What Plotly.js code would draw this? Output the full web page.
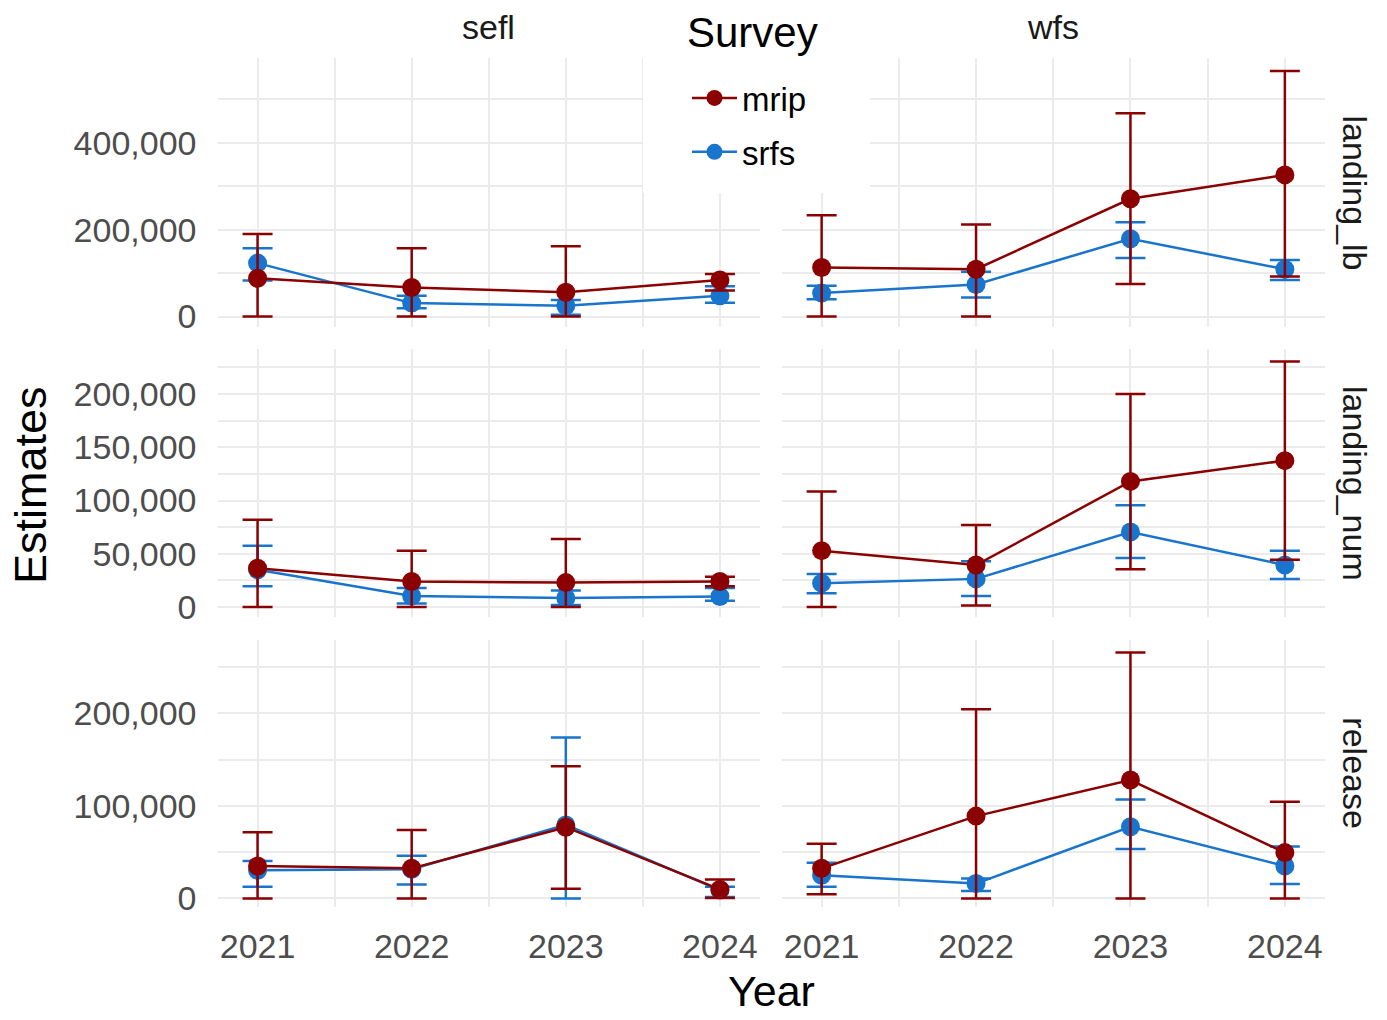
<!DOCTYPE html>
<html><head><meta charset="utf-8">
<script src="https://cdn.plot.ly/plotly-3.0.1.min.js"></script>
<style>html,body{margin:0;padding:0;background:#fff}#chart{width:1387px;height:1020px}</style>
</head><body><div id="chart"></div>
<script>
// ---- categories ----
const years = [2021, 2022, 2023, 2024];
const regions = ['sefl', 'wfs'];
const metrics = ['landing_lb', 'landing_num', 'release'];
const surveys = ['mrip', 'srfs'];

// ---- landing_lb ----
const sefl_lb_mrip_est = [88000, 67000, 56000, 84000];
const sefl_lb_mrip_lo  = [0, 0, 0, 60000];
const sefl_lb_mrip_hi  = [190000, 157000, 162000, 98000];
const sefl_lb_srfs_est = [123000, 31000, 25000, 48000];
const sefl_lb_srfs_lo  = [83000, 19000, 4000, 32000];
const sefl_lb_srfs_hi  = [157000, 48000, 38000, 70000];

const wfs_lb_mrip_est = [113000, 109000, 271000, 326000];
const wfs_lb_mrip_lo  = [0, 0, 75000, 92000];
const wfs_lb_mrip_hi  = [233000, 212000, 468000, 565000];
const wfs_lb_srfs_est = [54000, 74000, 179000, 109000];
const wfs_lb_srfs_lo  = [40000, 44000, 135000, 84000];
const wfs_lb_srfs_hi  = [71000, 103000, 217000, 130000];

// ---- landing_num ----
const sefl_num_mrip_est = [36500, 24000, 23000, 24000];
const sefl_num_mrip_lo  = [0, 0, 0, 19500];
const sefl_num_mrip_hi  = [82000, 53000, 64000, 28500];
const sefl_num_srfs_est = [35000, 10500, 8500, 10000];
const sefl_num_srfs_lo  = [19500, 3500, 2000, 6000];
const sefl_num_srfs_hi  = [57500, 18000, 15500, 18000];

const wfs_num_mrip_est = [53000, 39500, 118000, 137500];
const wfs_num_mrip_lo  = [0, 1500, 35500, 44500];
const wfs_num_mrip_hi  = [108500, 77000, 200000, 230500];
const wfs_num_srfs_est = [22500, 26500, 70500, 39500];
const wfs_num_srfs_lo  = [13000, 10500, 46000, 26500];
const wfs_num_srfs_hi  = [31000, 43000, 95500, 53000];

// ---- release ----
const sefl_rel_mrip_est = [35000, 32500, 77000, 9700];
const sefl_rel_mrip_lo  = [0, 0, 10500, 500];
const sefl_rel_mrip_hi  = [71500, 74000, 143000, 20500];
const sefl_rel_srfs_est = [30500, 31500, 79500, 9000];
const sefl_rel_srfs_lo  = [12500, 15000, 0, 1500];
const sefl_rel_srfs_hi  = [40500, 46000, 174000, 12500];

const wfs_rel_mrip_est = [32500, 89000, 128000, 49500];
const wfs_rel_mrip_lo  = [4500, 0, 0, 0];
const wfs_rel_mrip_hi  = [59000, 204500, 266000, 104500];
const wfs_rel_srfs_est = [25000, 16000, 77500, 35000];
const wfs_rel_srfs_lo  = [12500, 8000, 53500, 15500];
const wfs_rel_srfs_hi  = [38500, 21500, 107000, 56000];

const panelData = {
  landing_lb: {
    sefl: {mrip: [sefl_lb_mrip_est, sefl_lb_mrip_lo, sefl_lb_mrip_hi], srfs: [sefl_lb_srfs_est, sefl_lb_srfs_lo, sefl_lb_srfs_hi]},
    wfs:  {mrip: [wfs_lb_mrip_est, wfs_lb_mrip_lo, wfs_lb_mrip_hi],   srfs: [wfs_lb_srfs_est, wfs_lb_srfs_lo, wfs_lb_srfs_hi]}
  },
  landing_num: {
    sefl: {mrip: [sefl_num_mrip_est, sefl_num_mrip_lo, sefl_num_mrip_hi], srfs: [sefl_num_srfs_est, sefl_num_srfs_lo, sefl_num_srfs_hi]},
    wfs:  {mrip: [wfs_num_mrip_est, wfs_num_mrip_lo, wfs_num_mrip_hi],   srfs: [wfs_num_srfs_est, wfs_num_srfs_lo, wfs_num_srfs_hi]}
  },
  release: {
    sefl: {mrip: [sefl_rel_mrip_est, sefl_rel_mrip_lo, sefl_rel_mrip_hi], srfs: [sefl_rel_srfs_est, sefl_rel_srfs_lo, sefl_rel_srfs_hi]},
    wfs:  {mrip: [wfs_rel_mrip_est, wfs_rel_mrip_lo, wfs_rel_mrip_hi],   srfs: [wfs_rel_srfs_est, wfs_rel_srfs_lo, wfs_rel_srfs_hi]}
  }
};

// ---- styling ----
const W = 1387, H = 1020;
const FONT = 'Liberation Sans, Arial, sans-serif';
const colors = {mrip: '#8B0000', srfs: '#1874CD'};
const colPx = [[217.5, 760], [781.5, 1325]];
const rowPx = [[58, 327], [349.3, 616.7], [640, 906.7]];
const yRanges = [[-24000, 595000], [-9000, 242000], [-9000, 279500]];
const yDtick = [200000, 50000, 100000];
const yMinor = [100000, 25000, 50000];
const GRID = '#ebebeb';
const px2x = p => p / W;
const py2y = p => 1 - p / H;

const traces = [];
const layout = {
  width: W, height: H,
  margin: {l: 0, r: 0, t: 0, b: 0},
  paper_bgcolor: '#fff', plot_bgcolor: 'rgba(0,0,0,0)',
  font: {family: FONT, color: '#1a1a1a'},
  showlegend: true,
  legend: {
    x: px2x(687), y: py2y(70), xanchor: 'left', yanchor: 'top',
    bgcolor: 'rgba(0,0,0,0)',
    font: {size: 33, color: '#000', family: FONT},
    itemwidth: 45, tracegroupgap: 8, traceorder: 'grouped'
  },
  shapes: [{
    type: 'rect', xref: 'paper', yref: 'paper', layer: 'above',
    x0: px2x(643), x1: px2x(870), y0: py2y(193), y1: 1,
    fillcolor: '#fff', line: {width: 0}
  }],
  annotations: []
};

metrics.forEach((m, r) => {
  regions.forEach((reg, c) => {
    const idx = r * 2 + c + 1;
    const xa = idx === 1 ? 'xaxis' : 'xaxis' + idx;
    const ya = idx === 1 ? 'yaxis' : 'yaxis' + idx;
    const xr = idx === 1 ? 'x' : 'x' + idx;
    const yr = idx === 1 ? 'y' : 'y' + idx;
    layout[xa] = {
      domain: [px2x(colPx[c][0]), px2x(colPx[c][1])],
      anchor: yr, range: [2020.74, 2024.26],
      tick0: 2021, dtick: 1, tickformat: 'd',
      showticklabels: r === 2, ticks: '', ticklabelstandoff: 16,
      tickfont: {size: 34, color: '#4d4d4d', family: FONT},
      showgrid: true, gridcolor: GRID, gridwidth: 2,
      minor: {dtick: 0.5, tick0: 2021, showgrid: true, gridcolor: GRID, gridwidth: 1.5},
      zeroline: false, showline: false, fixedrange: true
    };
    layout[ya] = {
      domain: [py2y(rowPx[r][1]), py2y(rowPx[r][0])],
      anchor: xr, range: yRanges[r],
      tick0: 0, dtick: yDtick[r], tickformat: ',d',
      showticklabels: c === 0, ticks: '', ticklabelstandoff: 20,
      tickfont: {size: 34, color: '#4d4d4d', family: FONT},
      showgrid: true, gridcolor: GRID, gridwidth: 2,
      minor: {dtick: yMinor[r], tick0: 0, showgrid: true, gridcolor: GRID, gridwidth: 1.5},
      zeroline: false, showline: false, fixedrange: true
    };
    ['srfs', 'mrip'].forEach(s => {
      const [est, lo, hi] = panelData[m][reg][s];
      traces.push({
        type: 'scatter', mode: 'lines+markers',
        x: years, y: est, xaxis: xr, yaxis: yr,
        name: s, legendgroup: s, showlegend: idx === 1,
        legendrank: s === 'mrip' ? 1 : 2,
        line: {color: colors[s], width: 2.5},
        marker: {color: colors[s], size: 19},
        error_y: {
          type: 'data', symmetric: false,
          array: hi.map((h, i) => h - est[i]),
          arrayminus: lo.map((l, i) => est[i] - l),
          color: colors[s], thickness: 2.5, width: 15
        },
        hoverinfo: 'x+y+name'
      });
    });
  });
});

// legend title
layout.annotations.push({
  text: 'Survey', xref: 'paper', yref: 'paper',
  x: px2x(752), y: py2y(32), xanchor: 'center', yanchor: 'middle',
  showarrow: false, font: {size: 42, color: '#000', family: FONT}
});
// strip labels
regions.forEach((reg, c) => {
  layout.annotations.push({
    text: reg, xref: 'paper', yref: 'paper',
    x: px2x((colPx[c][0] + colPx[c][1]) / 2), y: py2y(27),
    xanchor: 'center', yanchor: 'middle', showarrow: false,
    font: {size: 34, color: '#1a1a1a', family: FONT}
  });
});
metrics.forEach((m, r) => {
  layout.annotations.push({
    text: m, xref: 'paper', yref: 'paper', textangle: 90,
    x: px2x(1355), y: py2y((rowPx[r][0] + rowPx[r][1]) / 2),
    xanchor: 'center', yanchor: 'middle', showarrow: false,
    font: {size: 34, color: '#1a1a1a', family: FONT}
  });
});
// axis titles
layout.annotations.push({
  text: 'Year', xref: 'paper', yref: 'paper',
  x: px2x(771), y: py2y(991), xanchor: 'center', yanchor: 'middle',
  showarrow: false, borderpad: 0, font: {size: 43, color: '#000', family: FONT}
});
layout.annotations.push({
  text: 'Estimates', xref: 'paper', yref: 'paper', textangle: -90,
  x: px2x(30), y: py2y(485), xanchor: 'center', yanchor: 'middle',
  showarrow: false, font: {size: 45, color: '#000', family: FONT}
});

Plotly.newPlot('chart', traces, layout, {displayModeBar: false, staticPlot: false});
</script>
</body></html>
